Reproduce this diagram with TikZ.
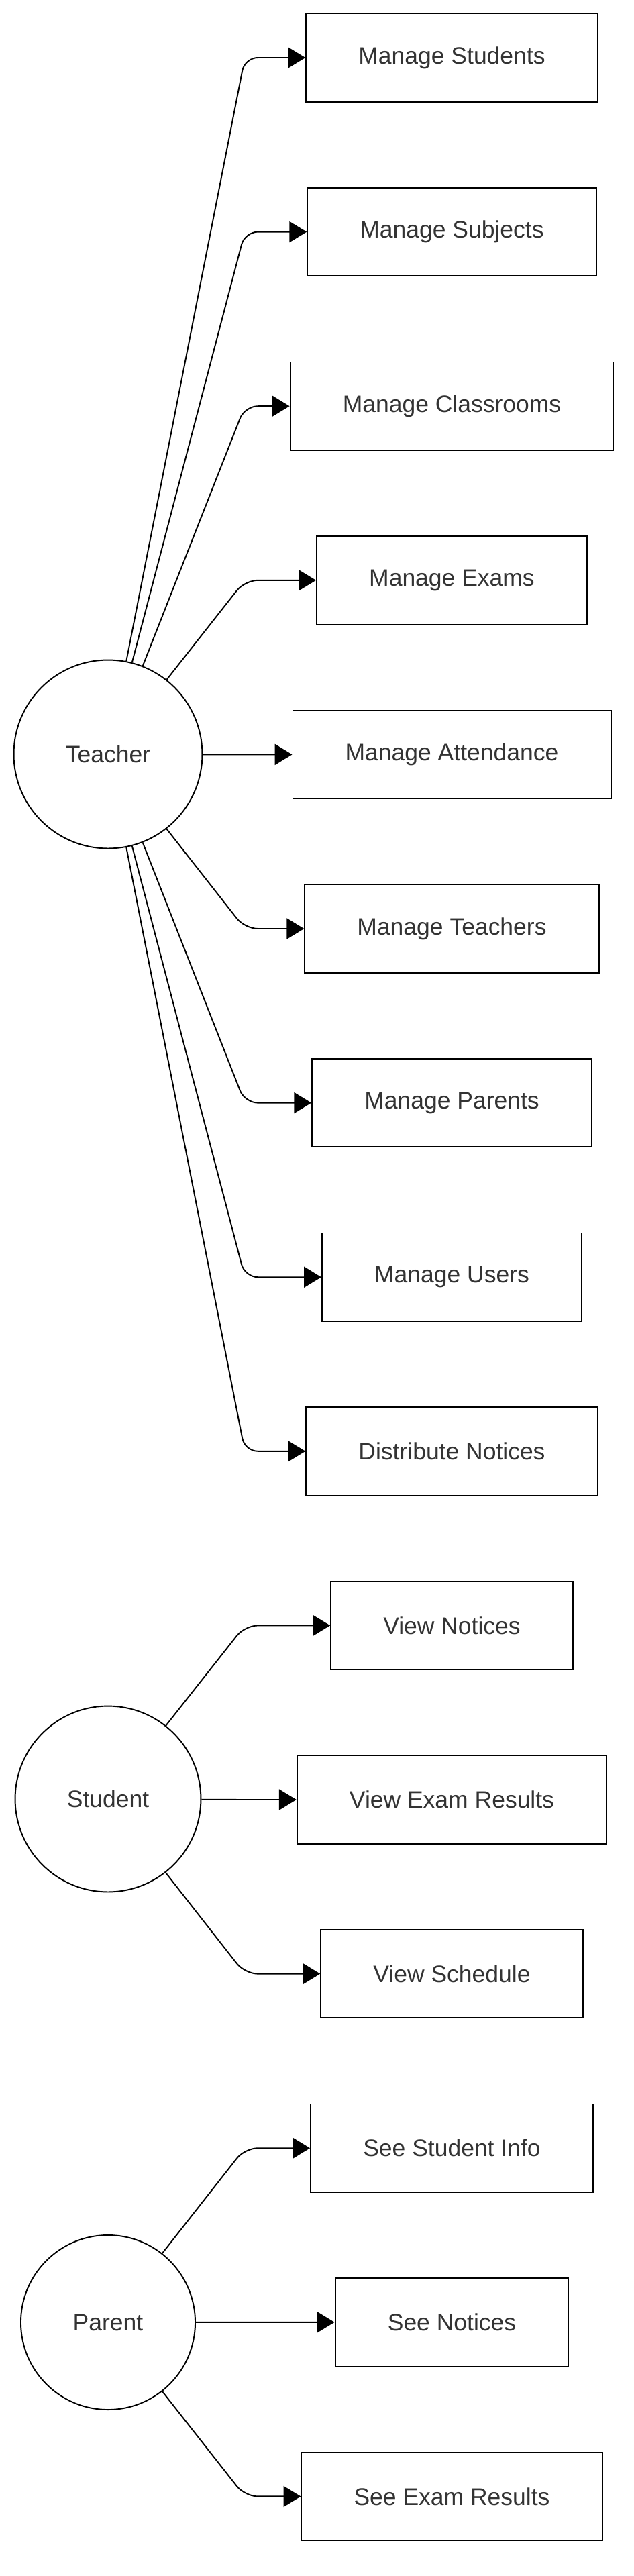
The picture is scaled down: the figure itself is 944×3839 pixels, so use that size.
\documentclass[tikz,border=0pt]{standalone}
\usepackage{fontspec}
\setmainfont{Liberation Sans}
\usetikzlibrary{arrows.meta}
\definecolor{txtgray}{RGB}{51,51,51}
\tikzset{
  task/.style={draw, line width=1.1pt, minimum height=74.8pt, inner xsep=44.5pt,
    text=txtgray, font=\fontsize{20.2}{24}\selectfont},
  actor/.style={draw, circle, line width=1.1pt, inner sep=0pt,
    text=txtgray, font=\fontsize{20.2}{24}\selectfont},
  flow/.style={-{Triangle[length=14.7pt,width=17.6pt]}, line width=1.1pt, rounded corners=11pt},
}

\begin{document}
\begin{tikzpicture}[x=0.02cm, y=-0.02cm]
\useasboundingbox (0,0) rectangle (944,3839);

% actors
\node[actor, minimum size=159.9pt] (teacher) at (161,1124) {Teacher};
\node[actor, minimum size=157.6pt] (student) at (161,2681) {Student};
\node[actor, minimum size=148pt] (parent) at (161,3461) {Parent};

% teacher tasks
\foreach \lbl [count=\i from 0] in {Manage Students, Manage Subjects, Manage Classrooms,
  Manage Exams, Manage Attendance, Manage Teachers, Manage Parents, Manage Users,
  Distribute Notices}{
	\node[task] (t\i) at (673.5, 86+259.6*\i) {\lbl};
	\draw[flow] (teacher) -- (365, 86+259.6*\i) -- (t\i);
}

% student tasks
\foreach \lbl [count=\i from 9] in {View Notices, View Exam Results, View Schedule}{
	\node[task] (s\i) at (673.5, 86+259.6*\i) {\lbl};
	\draw[flow] (student) -- (365, 86+259.6*\i) -- (s\i);
}

% parent tasks
\foreach \lbl [count=\i from 12] in {See Student Info, See Notices, See Exam Results}{
	\node[task] (p\i) at (673.5, 86+259.6*\i) {\lbl};
	\draw[flow] (parent) -- (365, 86+259.6*\i) -- (p\i);
}
\end{tikzpicture}
\end{document}
